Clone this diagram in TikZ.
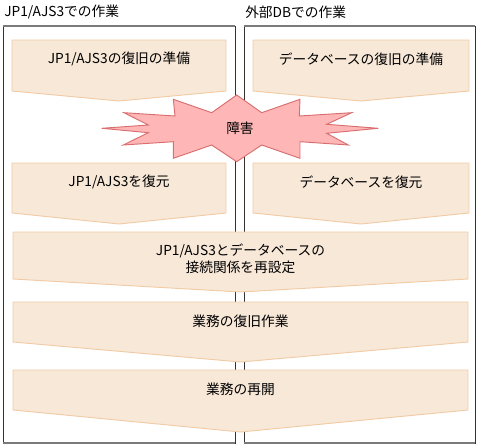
\documentclass[tikz,border=0pt]{standalone}
\usepackage{fontspec}
\setmainfont{Noto Sans CJK JP}
\definecolor{stepfill}{HTML}{F8E8D8}
\definecolor{stepline}{HTML}{F0CBA5}
\definecolor{burstfill}{HTML}{FFB6B6}
\definecolor{burstline}{HTML}{D86E6E}
\definecolor{frameline}{HTML}{7A7A7A}

\tikzset{
  stepshape/.style={fill=stepfill, draw=stepline, line width=0.7pt},
  label/.style={font=\fontsize{10.3}{13}\selectfont, align=center, inner sep=0pt},
  burst/.style={fill=burstfill, draw=burstline, line width=0.7pt},
}

% chevron: [node options] left, right, top, side bottom, tip, name, text
\newcommand{\stepchev}[8][]{%
  \filldraw[stepshape] (#2,#4) -- (#3,#4) -- (#3,#5) -- ({(#2+#3)/2},#6) -- (#2,#5) -- cycle;
  \node[label,#1] (#7) at ({(#2+#3)/2},{#4+19}) {#8};
}

\begin{document}
\begin{tikzpicture}[x=0.75pt,y=-0.75pt]
  \useasboundingbox (0,0) rectangle (480,447);
  % two work columns
  \foreach \l/\r in {3/235,244/475}{
    \draw[black!80, line width=0.6pt] (\l,26) rectangle (\r,443);
    \draw[frameline, line width=1.4pt] (\l,26) -- (\r,26) (\l,443) -- (\r,443);
  }
  \node[label, anchor=west] (titleAJS) at (4,12) {JP1/AJS3での作業};
  \node[label, anchor=west] (titleDB) at (245,12) {外部DBでの作業};
  % steps
  \stepchev{12}{226}{40}{91}{101}{prepAJS}{JP1/AJS3の復旧の準備}
  \stepchev{253}{469}{40}{91}{101}{prepDB}{データベースの復旧の準備}
  \stepchev{12}{226}{163}{213}{224}{restAJS}{JP1/AJS3を復元}
  \stepchev{253}{469}{163}{213}{224}{restDB}{データベースを復元}
  \stepchev[yshift=-6pt]{13}{468}{232}{279}{292}{reconf}{JP1/AJS3とデータベースの\\接続関係を再設定}
  \stepchev{13}{468}{302}{342}{362}{recov}{業務の復旧作業}
  \stepchev{13}{468}{370}{410}{432}{resume}{業務の再開}
  % fault burst
  \filldraw[burst] plot coordinates {(101.7,128.3) (148.3,125) (124,112.7) (175,116)
    (173.3,99.3) (211.7,112.7) (236.7,95) (261.7,112.7) (300,99.3) (299.3,116)
    (351.7,112.7) (326.7,124.3) (378.3,128.3) (326.7,133.3) (348.3,145) (300,141.7)
    (300,158.3) (261.7,145) (236.7,161.7) (211.7,145) (173.3,158.3) (173.3,141.7)
    (123.3,145) (148.3,132.7)} -- cycle;
  \node[label] (fault) at (240,128) {障害};
\end{tikzpicture}
\end{document}
